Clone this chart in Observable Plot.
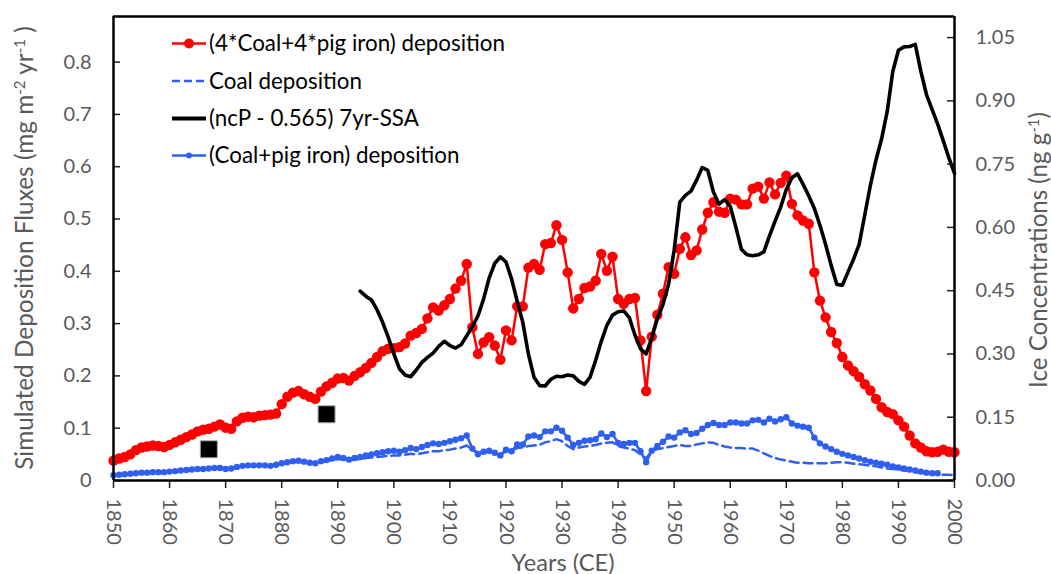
<!DOCTYPE html>
<html><head><meta charset="utf-8">
<script src="https://cdn.jsdelivr.net/npm/d3@7"></script>
<script src="https://cdn.jsdelivr.net/npm/@observablehq/plot@0.6"></script>
<style>body{margin:0;background:#fff} svg{display:block}</style>
</head><body><div id="chart"></div>
<script>
// ---------- data ----------
const startYear = 1850;
// (4*Coal+4*pig iron) deposition, 1850-2000
const redValues = [
 0.038,0.042,0.045,0.050,0.058,0.063,0.065,0.067,0.066,0.064,
 0.068,0.073,0.078,0.083,0.088,0.094,0.097,0.099,0.103,0.107,
 0.101,0.099,0.113,0.120,0.122,0.121,0.124,0.125,0.126,0.128,
 0.146,0.160,0.168,0.171,0.165,0.160,0.156,0.170,0.180,0.187,
 0.195,0.196,0.191,0.200,0.207,0.215,0.225,0.236,0.247,0.252,
 0.253,0.255,0.262,0.277,0.282,0.290,0.310,0.331,0.325,0.335,
 0.347,0.367,0.382,0.414,0.293,0.242,0.264,0.274,0.258,0.231,
 0.287,0.268,0.333,0.333,0.407,0.414,0.403,0.452,0.454,0.488,
 0.460,0.398,0.329,0.347,0.368,0.371,0.382,0.433,0.401,0.428,
 0.347,0.338,0.347,0.349,0.268,0.171,0.275,0.317,0.357,0.408,
 0.395,0.443,0.465,0.431,0.440,0.480,0.512,0.532,0.514,0.512,
 0.539,0.537,0.528,0.528,0.558,0.562,0.539,0.570,0.547,0.569,
 0.583,0.529,0.507,0.497,0.491,0.398,0.344,0.312,0.284,0.263,
 0.236,0.220,0.209,0.198,0.184,0.172,0.156,0.140,0.131,0.127,
 0.115,0.103,0.086,0.071,0.063,0.056,0.054,0.055,0.059,0.055,
 0.054];
// (Coal+pig iron) deposition, 1850-1997
const blueValues = [
 0.010,0.011,0.012,0.013,0.014,0.015,0.015,0.016,0.016,0.016,
 0.017,0.018,0.019,0.020,0.021,0.022,0.022,0.023,0.024,0.024,
 0.022,0.023,0.026,0.028,0.029,0.029,0.029,0.029,0.028,0.030,
 0.033,0.035,0.037,0.038,0.036,0.034,0.033,0.037,0.039,0.042,
 0.045,0.043,0.040,0.043,0.045,0.048,0.050,0.052,0.054,0.056,
 0.057,0.055,0.058,0.062,0.060,0.064,0.068,0.071,0.070,0.072,
 0.075,0.078,0.081,0.086,0.061,0.050,0.055,0.057,0.053,0.048,
 0.059,0.056,0.069,0.069,0.084,0.086,0.083,0.094,0.094,0.101,
 0.095,0.082,0.068,0.072,0.076,0.077,0.079,0.090,0.083,0.089,
 0.072,0.070,0.072,0.072,0.056,0.035,0.057,0.066,0.074,0.084,
 0.082,0.092,0.096,0.089,0.091,0.099,0.106,0.110,0.106,0.106,
 0.111,0.111,0.109,0.109,0.115,0.116,0.111,0.118,0.113,0.117,
 0.121,0.109,0.105,0.103,0.101,0.082,0.071,0.065,0.060,0.055,
 0.051,0.048,0.045,0.042,0.039,0.036,0.034,0.032,0.030,0.027,
 0.025,0.023,0.021,0.019,0.017,0.015,0.014,0.014];
// Coal deposition, 1850-2000
const coalValues = [
 0.010,0.011,0.012,0.013,0.014,0.014,0.015,0.015,0.016,0.016,
 0.017,0.017,0.018,0.019,0.020,0.021,0.021,0.022,0.023,0.023,
 0.022,0.022,0.025,0.027,0.028,0.028,0.028,0.028,0.027,0.029,
 0.031,0.033,0.035,0.036,0.034,0.033,0.032,0.035,0.037,0.039,
 0.041,0.040,0.038,0.040,0.041,0.043,0.044,0.045,0.046,0.047,
 0.048,0.048,0.049,0.051,0.050,0.052,0.054,0.056,0.056,0.058,
 0.059,0.061,0.063,0.067,0.058,0.054,0.054,0.054,0.053,0.051,
 0.055,0.058,0.062,0.063,0.066,0.067,0.068,0.073,0.075,0.079,
 0.075,0.066,0.060,0.063,0.065,0.066,0.068,0.071,0.072,0.073,
 0.066,0.063,0.061,0.058,0.050,0.042,0.056,0.060,0.062,0.064,
 0.066,0.068,0.066,0.066,0.069,0.071,0.073,0.072,0.068,0.065,
 0.063,0.062,0.062,0.061,0.061,0.057,0.052,0.047,0.043,0.040,
 0.038,0.036,0.034,0.034,0.033,0.033,0.033,0.033,0.034,0.035,
 0.035,0.034,0.032,0.031,0.030,0.028,0.027,0.025,0.023,0.022,
 0.021,0.019,0.018,0.016,0.015,0.014,0.013,0.012,0.011,0.011,
 0.010];
// (ncP - 0.565) 7yr-SSA, ice concentration (right axis), 1894-2000
const blackStart = 1894;
const blackValues = [
 0.449,0.437,0.428,0.405,0.375,0.340,
 0.300,0.265,0.250,0.246,0.262,0.280,0.292,0.302,0.318,0.330,
 0.320,0.314,0.322,0.343,0.365,0.390,0.430,0.480,0.515,0.530,
 0.518,0.478,0.425,0.375,0.300,0.245,0.225,0.224,0.240,0.247,
 0.246,0.250,0.248,0.235,0.228,0.245,0.285,0.330,0.368,0.392,
 0.400,0.402,0.386,0.345,0.312,0.300,0.338,0.384,0.417,0.465,
 0.546,0.660,0.676,0.686,0.712,0.742,0.735,0.684,0.655,0.666,
 0.650,0.601,0.548,0.535,0.533,0.535,0.542,0.580,0.615,0.648,
 0.690,0.718,0.727,0.702,0.675,0.645,0.605,0.560,0.510,0.465,
 0.463,0.494,0.525,0.560,0.630,0.700,0.760,0.810,0.875,0.970,
 1.020,1.028,1.029,1.034,0.970,0.915,0.880,0.845,0.805,0.765,
 0.728];
// measured ice samples (right axis)
const squareYears = [1867, 1888];
const squareValues = [0.074, 0.157];

const xTicks = [1850,1860,1870,1880,1890,1900,1910,1920,1930,1940,1950,1960,1970,1980,1990,2000];
const leftTicks = [0,0.1,0.2,0.3,0.4,0.5,0.6,0.7,0.8];
const rightTicks = [0,0.15,0.30,0.45,0.60,0.75,0.90,1.05];
const xMin = 1850, xMax = 2000;
const leftMax = 0.8872, rightMax = 1.1;
const k = leftMax / rightMax;

const legendLabels = ["(4*Coal+4*pig iron) deposition", "Coal deposition", "(ncP - 0.565) 7yr-SSA", "(Coal+pig iron) deposition"];

// ---------- build tables ----------
const red = redValues.map((v, i) => ({year: startYear + i, value: v}));
const blue = blueValues.map((v, i) => ({year: startYear + i, value: v}));
const coal = coalValues.map((v, i) => ({year: startYear + i, value: v}));
const black = blackValues.map((v, i) => ({year: blackStart + i, value: v}));
const squares = squareYears.map((y, i) => ({year: y, value: squareValues[i]}));

const RED = "#ff0000", BLUE = "#2f5ff0", GRAY = "#595959", TICK = "#222";
const FONT = "Lato";

const svg = Plot.plot({
  width: 1051, height: 574,
  marginLeft: 113, marginRight: 97, marginTop: 16, marginBottom: 94,
  style: {fontFamily: FONT, fontSize: "20px", color: GRAY, background: "white", overflow: "visible"},
  x: {domain: [xMin, xMax], axis: null},
  y: {domain: [0, leftMax], axis: null},
  marks: [
    Plot.line(coal, {x: "year", y: "value", stroke: BLUE, strokeWidth: 2.5, strokeDasharray: "9,5"}),
    Plot.line(blue, {x: "year", y: "value", stroke: BLUE, strokeWidth: 2.6}),
    Plot.dot(blue, {x: "year", y: "value", r: 3.2, fill: BLUE}),
    Plot.line(red, {x: "year", y: "value", stroke: RED, strokeWidth: 2.5}),
    Plot.dot(red, {x: "year", y: "value", r: 5.2, fill: RED}),
    Plot.line(black, {x: "year", y: d => d.value * k, stroke: "black", strokeWidth: 3.6}),
    Plot.dot(squares, {x: "year", y: d => d.value * k, symbol: "square", r: 9.6, fill: "black", stroke: "#aaa", strokeWidth: 1}),
    // ticks (inward on y, outward on x)
    Plot.ruleY(leftTicks, {y: d => d, x1: xMin, x2: xMin, insetRight: -7, stroke: TICK, strokeWidth: 1.5}),
    Plot.ruleY(rightTicks, {y: d => d * k, x1: xMax, x2: xMax, insetLeft: -7, stroke: TICK, strokeWidth: 1.5}),
    Plot.ruleX(xTicks, {x: d => d, y1: 0, y2: 0, insetBottom: -8, stroke: TICK, strokeWidth: 1.5}),
    // frame
    Plot.ruleX([xMin, xMax], {x: d => d, stroke: "black", strokeWidth: 2.5}),
    Plot.ruleY([0, leftMax], {y: d => d, stroke: "black", strokeWidth: 2.5}),
    // tick labels
    Plot.text(leftTicks, {x: () => xMin, y: d => d, text: d => d === 0 ? "0" : d.toFixed(1), textAnchor: "end",
      dx: -22, fill: GRAY, fontSize: 20}),
    Plot.text(rightTicks, {x: () => xMax, y: d => d * k, text: d => d.toFixed(2), textAnchor: "start",
      dx: 21, fill: GRAY, fontSize: 20}),
    Plot.text(xTicks, {x: d => d, y: () => 0, text: d => String(d), rotate: 90, textAnchor: "start",
      lineAnchor: "middle", dy: 18, fill: GRAY, fontSize: 20})
  ]
});
document.getElementById("chart").appendChild(svg);

const s = d3.select(svg);
function fit(sel, target) {
  const len = sel.node().getComputedTextLength();
  const fs = parseFloat(sel.attr("font-size"));
  if (len > 0) sel.attr("font-size", fs * target / len);
  return +sel.attr("font-size");
}

// axis titles
const lt = s.append("text").attr("transform", "translate(33,248) rotate(-90)")
  .attr("text-anchor", "middle").attr("font-family", FONT).attr("font-size", 21).attr("fill", GRAY);
lt.append("tspan").text("Simulated Deposition Fluxes (mg m");
lt.append("tspan").attr("font-size", "0.62em").attr("dy", "-0.55em").text("-2");
lt.append("tspan").attr("dy", "0.34em").text(" yr");
lt.append("tspan").attr("font-size", "0.62em").attr("dy", "-0.55em").text("-1");
lt.append("tspan").attr("dy", "0.34em").text(" )");
fit(lt, 444);

const rt = s.append("text").attr("transform", "translate(1047,250) rotate(-90)")
  .attr("text-anchor", "middle").attr("font-family", FONT).attr("font-size", 21).attr("fill", GRAY);
rt.append("tspan").text("Ice Concentrations (ng g");
rt.append("tspan").attr("font-size", "0.62em").attr("dy", "-0.55em").text("-1");
rt.append("tspan").attr("dy", "0.34em").text(")");
fit(rt, 276);

const xt = s.append("text").attr("x", 563).attr("y", 571).attr("text-anchor", "middle")
  .attr("font-family", FONT).attr("font-size", 21).attr("fill", GRAY).text("Years (CE)");
fit(xt, 103);

// legend
const rows = [43.5, 81, 118.5, 155.5];
const lg = s.append("g");
const texts = legendLabels.map((t, i) => lg.append("text").attr("x", 209).attr("y", rows[i]).attr("dy", "0.35em")
  .attr("text-anchor", "start").attr("font-family", FONT).attr("font-size", 20).attr("fill", "black").text(t));
const fs = fit(texts[0], 296);
texts.forEach(t => t.attr("font-size", fs));
lg.append("line").attr("x1", 172).attr("x2", 206).attr("y1", rows[0]).attr("y2", rows[0]).attr("stroke", RED).attr("stroke-width", 2.5);
lg.append("circle").attr("cx", 189).attr("cy", rows[0]).attr("r", 5).attr("fill", RED);
lg.append("line").attr("x1", 172).attr("x2", 206).attr("y1", rows[1]).attr("y2", rows[1]).attr("stroke", BLUE).attr("stroke-width", 2.5).attr("stroke-dasharray", "8,4");
lg.append("line").attr("x1", 172).attr("x2", 206).attr("y1", rows[2]).attr("y2", rows[2]).attr("stroke", "black").attr("stroke-width", 4);
lg.append("line").attr("x1", 172).attr("x2", 206).attr("y1", rows[3]).attr("y2", rows[3]).attr("stroke", BLUE).attr("stroke-width", 2.5);
lg.append("circle").attr("cx", 189).attr("cy", rows[3]).attr("r", 3).attr("fill", BLUE);
</script>
</body></html>
